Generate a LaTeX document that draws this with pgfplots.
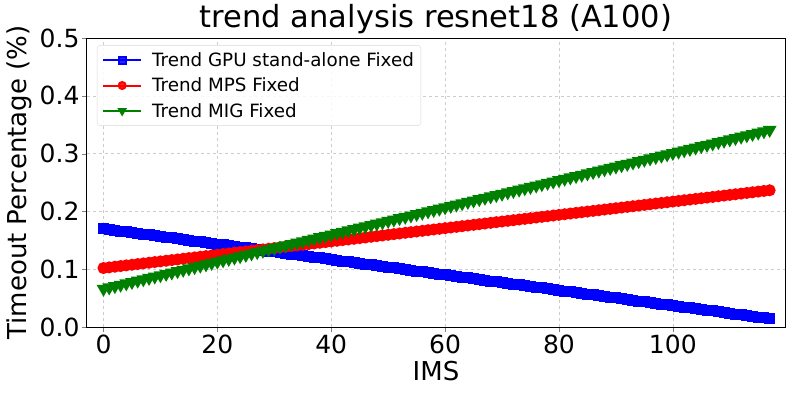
\documentclass[border=0pt]{standalone}
\usepackage{fontspec}
\setmainfont{DejaVu Sans}
\usepackage{pgfplots}
\pgfplotsset{compat=1.18}

\pgfplotstableread{
x y
0 .17000
1 .16867
2 .16734
3 .16601
4 .16468
5 .16335
6 .16202
7 .16069
8 .15936
9 .15803
10 .15670
11 .15537
12 .15404
13 .15271
14 .15138
15 .15005
16 .14872
17 .14739
18 .14606
19 .14473
20 .14340
21 .14207
22 .14074
23 .13941
24 .13808
25 .13675
26 .13542
27 .13409
28 .13276
29 .13143
30 .13010
31 .12877
32 .12744
33 .12611
34 .12478
35 .12345
36 .12212
37 .12079
38 .11946
39 .11813
40 .11680
41 .11547
42 .11414
43 .11281
44 .11148
45 .11015
46 .10882
47 .10749
48 .10616
49 .10483
50 .10350
51 .10217
52 .10084
53 .09951
54 .09818
55 .09685
56 .09552
57 .09419
58 .09286
59 .09153
60 .09020
61 .08887
62 .08754
63 .08621
64 .08488
65 .08355
66 .08222
67 .08089
68 .07956
69 .07823
70 .07690
71 .07557
72 .07424
73 .07291
74 .07158
75 .07025
76 .06892
77 .06759
78 .06626
79 .06493
80 .06360
81 .06227
82 .06094
83 .05961
84 .05828
85 .05695
86 .05562
87 .05429
88 .05296
89 .05163
90 .05030
91 .04897
92 .04764
93 .04631
94 .04498
95 .04365
96 .04232
97 .04099
98 .03966
99 .03833
100 .03700
101 .03567
102 .03434
103 .03301
104 .03168
105 .03035
106 .02902
107 .02769
108 .02636
109 .02503
110 .02370
111 .02237
112 .02104
113 .01971
114 .01838
115 .01705
116 .01572
117 .01439
}\gpudata

\pgfplotstableread{
x y
0 .10200
1 .10315
2 .10430
3 .10545
4 .10660
5 .10775
6 .10890
7 .11005
8 .11120
9 .11235
10 .11350
11 .11465
12 .11580
13 .11695
14 .11810
15 .11925
16 .12040
17 .12155
18 .12270
19 .12385
20 .12500
21 .12615
22 .12730
23 .12845
24 .12960
25 .13075
26 .13190
27 .13305
28 .13420
29 .13535
30 .13650
31 .13765
32 .13880
33 .13995
34 .14110
35 .14225
36 .14340
37 .14455
38 .14570
39 .14685
40 .14800
41 .14915
42 .15030
43 .15145
44 .15260
45 .15375
46 .15490
47 .15605
48 .15720
49 .15835
50 .15950
51 .16065
52 .16180
53 .16295
54 .16410
55 .16525
56 .16640
57 .16755
58 .16870
59 .16985
60 .17100
61 .17215
62 .17330
63 .17445
64 .17560
65 .17675
66 .17790
67 .17905
68 .18020
69 .18135
70 .18250
71 .18365
72 .18480
73 .18595
74 .18710
75 .18825
76 .18940
77 .19055
78 .19170
79 .19285
80 .19400
81 .19515
82 .19630
83 .19745
84 .19860
85 .19975
86 .20090
87 .20205
88 .20320
89 .20435
90 .20550
91 .20665
92 .20780
93 .20895
94 .21010
95 .21125
96 .21240
97 .21355
98 .21470
99 .21585
100 .21700
101 .21815
102 .21930
103 .22045
104 .22160
105 .22275
106 .22390
107 .22505
108 .22620
109 .22735
110 .22850
111 .22965
112 .23080
113 .23195
114 .23310
115 .23425
116 .23540
117 .23655
}\mpsdata

\pgfplotstableread{
x y
0 .06600
1 .06835
2 .07070
3 .07305
4 .07540
5 .07775
6 .08010
7 .08245
8 .08480
9 .08715
10 .08950
11 .09185
12 .09420
13 .09655
14 .09890
15 .10125
16 .10360
17 .10595
18 .10830
19 .11065
20 .11300
21 .11535
22 .11770
23 .12005
24 .12240
25 .12475
26 .12710
27 .12945
28 .13180
29 .13415
30 .13650
31 .13885
32 .14120
33 .14355
34 .14590
35 .14825
36 .15060
37 .15295
38 .15530
39 .15765
40 .16000
41 .16235
42 .16470
43 .16705
44 .16940
45 .17175
46 .17410
47 .17645
48 .17880
49 .18115
50 .18350
51 .18585
52 .18820
53 .19055
54 .19290
55 .19525
56 .19760
57 .19995
58 .20230
59 .20465
60 .20700
61 .20935
62 .21170
63 .21405
64 .21640
65 .21875
66 .22110
67 .22345
68 .22580
69 .22815
70 .23050
71 .23285
72 .23520
73 .23755
74 .23990
75 .24225
76 .24460
77 .24695
78 .24930
79 .25165
80 .25400
81 .25635
82 .25870
83 .26105
84 .26340
85 .26575
86 .26810
87 .27045
88 .27280
89 .27515
90 .27750
91 .27985
92 .28220
93 .28455
94 .28690
95 .28925
96 .29160
97 .29395
98 .29630
99 .29865
100 .30100
101 .30335
102 .30570
103 .30805
104 .31040
105 .31275
106 .31510
107 .31745
108 .31980
109 .32215
110 .32450
111 .32685
112 .32920
113 .33155
114 .33390
115 .33625
116 .33860
117 .34095
}\migdata

\definecolor{mplgreen}{HTML}{008000}

\begin{document}
\begin{tikzpicture}
\useasboundingbox (-87pt,-72pt) rectangle (706pt,327pt);
\begin{axis}[
  at={(0pt,0pt)}, anchor=south west,
  width=698pt, height=289pt, scale only axis,
  xmin=-2.9, xmax=119.7, ymin=0, ymax=0.5,
  xtick={0,20,40,60,80,100},
  ytick={0,0.1,0.2,0.3,0.4,0.5},
  yticklabel style={/pgf/number format/fixed, /pgf/number format/fixed zerofill, /pgf/number format/precision=1},
  /pgf/number format/assume math mode=true,
  tick label style={font=\fontsize{25}{30}\selectfont},
  xticklabel style={yshift=1pt},
  yticklabel style={xshift=1pt},
  label style={font=\fontsize{26}{31}\selectfont},
  title style={font=\fontsize{30.5}{36}\selectfont, at={(0.5,1)}, anchor=south, yshift=-5pt},
  title={trend analysis resnet18 (A100)},
  xlabel={IMS},
  ylabel={Timeout Percentage (\%)},
  xlabel style={yshift=-1pt},
  ylabel style={yshift=1pt},
  tick align=outside, major tick length=5pt,
  xtick pos=bottom, ytick pos=left,
  grid=major, grid style={gray!40, dashed, line width=0.6pt},
  axis line style={line width=1pt},
  legend style={at={(0.0143,0.975)}, anchor=north west, font=\fontsize{18.3}{22}\selectfont,
    draw=gray!30, rounded corners=3pt, fill=white, fill opacity=0.85, text opacity=1,
    row sep=6pt, inner xsep=5pt, inner ysep=5pt},
  legend image code/.code={%
    \draw[mark repeat=2, mark phase=2, line width=2pt, mark size=3.5pt]
      plot coordinates {(0pt,0pt) (19pt,0pt) (38pt,0pt)};
    \path (46pt,0pt);},
  legend cell align=left,
]
\addplot[blue, line width=2pt, mark=square*, mark size=4.5pt] table {\gpudata};
\addlegendentry{Trend GPU stand-alone Fixed}
\addplot[red, line width=2pt, mark=*, mark size=5pt] table {\mpsdata};
\addlegendentry{Trend MPS Fixed}
\addplot[mplgreen, line width=2pt, mark=triangle*, mark size=6pt, every mark/.append style={rotate=180}] table {\migdata};
\addlegendentry{Trend MIG Fixed}
\end{axis}
\end{tikzpicture}
\end{document}
